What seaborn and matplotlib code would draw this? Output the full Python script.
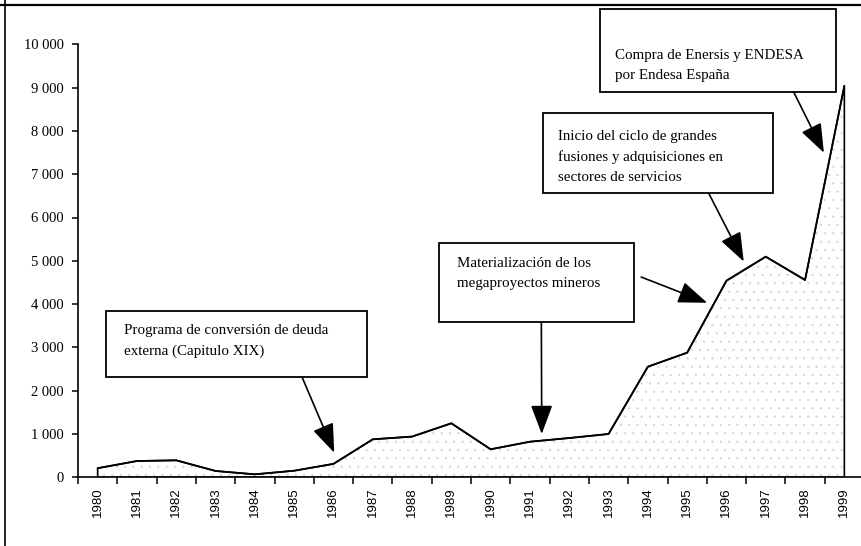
import numpy as np
import pandas as pd
import seaborn as sns
import matplotlib.pyplot as plt
from matplotlib.patches import Rectangle
from matplotlib.lines import Line2D
from matplotlib.ticker import FuncFormatter

# ---- data ----
years = [1980, 1981, 1982, 1983, 1984, 1985, 1986, 1987, 1988, 1989,
         1990, 1991, 1992, 1993, 1994, 1995, 1996, 1997, 1998, 1999]
values = [210, 376, 392, 146, 69, 152, 310, 877, 940, 1247,
          647, 822, 907, 1000, 2554, 2878, 4540, 5095, 4557, 9040]
yticks = [0, 1000, 2000, 3000, 4000, 5000, 6000, 7000, 8000, 9000, 10000]

notes = [
    "Programa de conversión de deuda\nexterna (Capitulo XIX)",
    "Materialización de los\nmegaproyectos mineros",
    "Inicio del ciclo de grandes\nfusiones y adquisiciones en\nsectores de servicios",
    "Compra de Enersis y ENDESA\npor Endesa España",
]
# box (left, right, bottom, top), text anchor (x, y centre of block), arrows [(tail, head)]
boxes = [(0.22, 6.86, 2316, 3840), (8.69, 13.66, 3586, 5410),
         (11.32, 17.19, 6564, 8412), (12.79, 18.78, 8900, 10813)]
text_pos = [(0.66, 3150), (9.15, 4696), (11.72, 7403), (13.17, 9508)]
arrows = [
    [((5.20, 2316), (6.02, 568))],
    [((11.29, 3586), (11.30, 1000)), ((13.83, 4625), (15.51, 4031))],
    [((15.55, 6558), (16.44, 4983))],
    [((17.71, 8900), (18.48, 7495))],
]

sns.set_theme(style="white")
plt.rcParams['font.family'] = ['Liberation Serif', 'DejaVu Serif']
plt.rcParams['hatch.linewidth'] = 0.4

fig = plt.figure(figsize=(8.61, 5.46), dpi=100)
ax = fig.add_axes([78 / 861, 68.7 / 546, 786 / 861, 433 / 546])

df = pd.DataFrame({"pos": np.arange(len(years)), "value": values})
ax.fill_between(df["pos"], df["value"], 0, facecolor="white", hatch="..",
                edgecolor="#d4d4d4", linewidth=0, zorder=1)
ax.fill_between(df["pos"], df["value"], 0, facecolor="none",
                edgecolor="black", linewidth=1.2, zorder=2)
sns.lineplot(data=df, x="pos", y="value", ax=ax, color="black", lw=1.3, zorder=3)

ax.set_xlim(-0.5, len(years) - 0.5)
ax.set_ylim(0, 10000)
ax.set_xlabel("")
ax.set_ylabel("")

ax.set_yticks(yticks)
ax.yaxis.set_major_formatter(FuncFormatter(lambda v, p: f"{v:,.0f}".replace(",", " ")))
ax.tick_params(axis="y", left=True, direction="out", length=4, width=1.1,
               colors="black", pad=6, labelsize=10.5)

ax.set_xticks(df["pos"])
ax.set_xticklabels([str(y) for y in years], rotation=90,
                   fontfamily="Liberation Sans", fontsize=9.5)
ax.tick_params(axis="x", which="major", length=0, pad=7, colors="black")
ax.set_xticks(np.arange(-0.5, len(years), 1), minor=True)
ax.tick_params(axis="x", which="minor", bottom=True, direction="out",
               length=5, width=1.1, color="black")

for s in ["top", "right"]:
    ax.spines[s].set_visible(False)
for s in ["left", "bottom"]:
    ax.spines[s].set_color("black")
    ax.spines[s].set_linewidth(1.2)

for txt, (l, r, b, t), (tx, ty), arrs in zip(notes, boxes, text_pos, arrows):
    ax.add_patch(Rectangle((l, b), r - l, t - b, facecolor="white",
                           edgecolor="black", linewidth=1.3, zorder=5,
                           clip_on=False))
    ax.text(tx, ty, txt, ha="left", va="center", fontsize=10.8,
            linespacing=1.7, color="black", zorder=6, clip_on=False)
    for tail, head in arrs:
        ax.annotate("", xy=head, xytext=tail, xycoords="data",
                    arrowprops=dict(arrowstyle="-|>,head_length=1.2,head_width=0.45",
                                    mutation_scale=15, color="black", lw=1.2,
                                    shrinkA=0, shrinkB=0),
                    zorder=6, annotation_clip=False)

# scanned page frame (left and top edges)
fig.add_artist(Line2D([5 / 861, 5 / 861], [0, 1], transform=fig.transFigure,
                      color="black", lw=1.2))
fig.add_artist(Line2D([0, 1], [1 - 5 / 546, 1 - 5 / 546], transform=fig.transFigure,
                      color="black", lw=1.6))

fig.savefig("out.png", dpi=100, facecolor="white")
